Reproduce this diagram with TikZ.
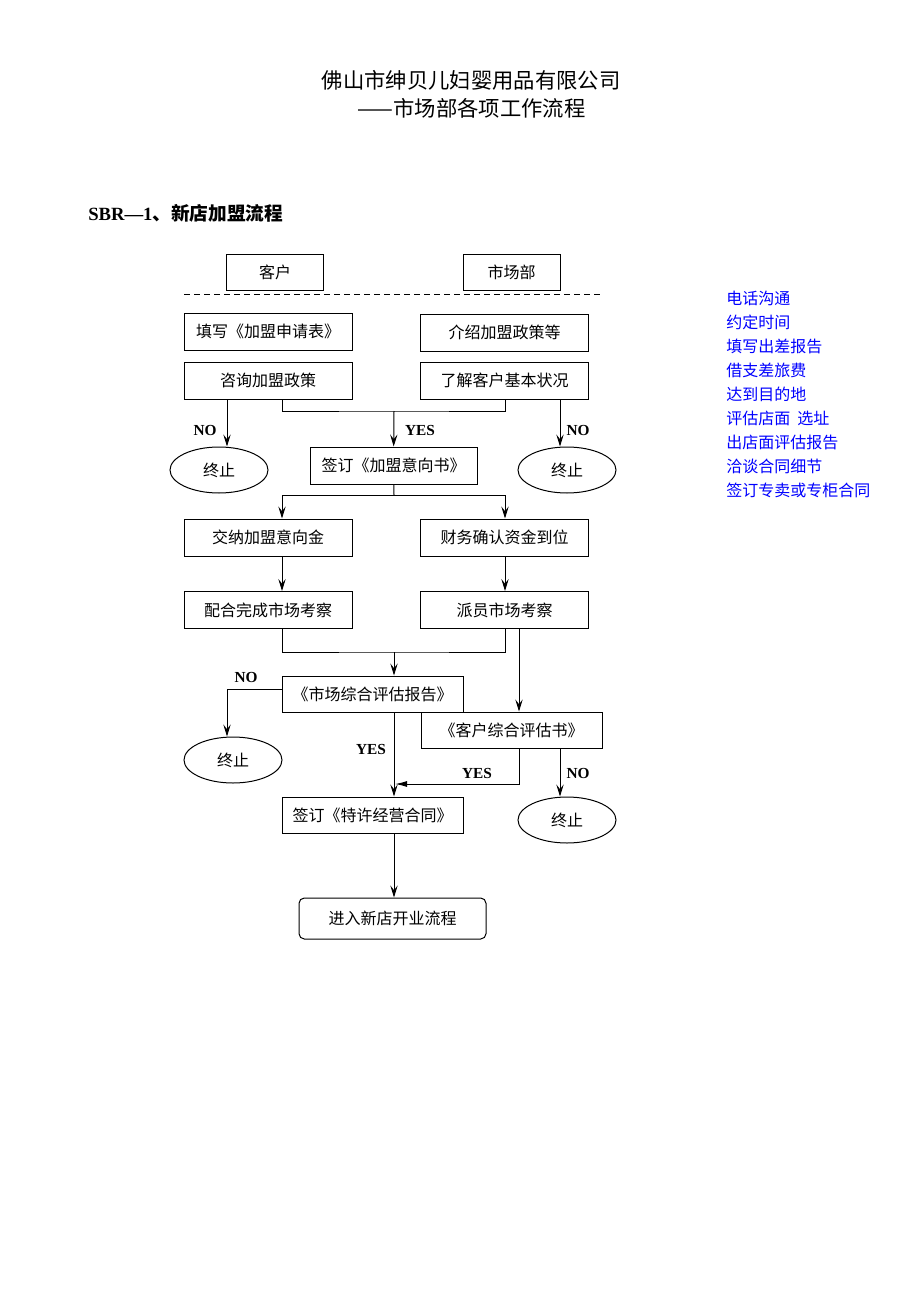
\documentclass[tikz,border=0pt]{standalone}
\usepackage{fontspec}
\setmainfont{Liberation Serif}
\newfontfamily\cjk{Noto Sans CJK SC}
\usetikzlibrary{shapes.geometric,arrows.meta}

\begin{document}
\begin{tikzpicture}[x=0.75pt,y=-0.75pt]
	\tikzset{box/.style = {draw, line width=0.75pt, inner sep=0pt,
	minimum width=126pt, minimum height=27.75pt,
	font=\cjk\fontsize{12}{14}\selectfont}}
	\tikzset{endnode/.style = {draw, ellipse, line width=0.75pt, inner sep=0pt,
	minimum width=73.5pt, minimum height=34.5pt,
	font=\cjk\fontsize{12}{14}\selectfont}}
	\tikzset{lbl/.style = {font=\bfseries\fontsize{11.5}{13}\selectfont}}
	\tikzset{note/.style = {anchor=west, text=blue, inner sep=0pt,
	font=\cjk\fontsize{12}{14}\selectfont}}
	\tikzset{arr/.style = {line width=0.75pt,
	-{Stealth[length=9pt, width=5.5pt, inset=3.5pt]}}}
	\tikzset{link/.style = {line width=0.75pt}}
	
	\useasboundingbox (0,0) rectangle (920,1302);
	
	% titles
	\node[font=\cjk\fontsize{16}{18}\selectfont] (title) at (471,80)
	{佛山市绅贝儿妇婴用品有限公司};
	\node[font=\cjk\fontsize{16}{18}\selectfont] (subtitle) at (471.5,108)
	{——市场部各项工作流程};
	\node[anchor=west, inner sep=0pt, font=\fontsize{14}{16}\selectfont] (sbr)
	at (88,213) {\textbf{SBR—1}{\cjk\bfseries 、新店加盟流程}};
	
	% lanes
	\node[box, minimum width=72.75pt, minimum height=27pt] (client) at (275,272) {客户};
	\node[box, minimum width=72.75pt, minimum height=27pt] (dept) at (511.5,272) {市场部};
	\coordinate (d_left) at (184,294);
	\coordinate (d_right) at (603,294);
	\draw[link, dash pattern=on 4.5pt off 3pt] (d_left) -- (d_right);
	
	% boxes
	\node[box] (fill) at (268,331.5) {填写《加盟申请表》};
	\node[box] (intro) at (504.5,332.5) {介绍加盟政策等};
	\node[box] (ask) at (268,380.5) {咨询加盟政策};
	\node[box] (know) at (504.5,380.5) {了解客户基本状况};
	\node[box, minimum width=125.25pt] (sign_a) at (393.5,465.5) {签订《加盟意向书》};
	\node[endnode] (end_a) at (219,470) {终止};
	\node[endnode] (end_b) at (567,470) {终止};
	\node[box] (pay) at (268,537.5) {交纳加盟意向金};
	\node[box] (fin) at (504.5,537.5) {财务确认资金到位};
	\node[box] (coop) at (268,610) {配合完成市场考察};
	\node[box] (send) at (504.5,610) {派员市场考察};
	\node[box, minimum width=135.75pt, minimum height=27pt] (mkt) at (372.5,694)
	{《市场综合评估报告》};
	\node[box, minimum width=135.75pt, minimum height=27pt] (cust) at (511.5,730)
	{《客户综合评估书》};
	\node[endnode] (end_c) at (233,760) {终止};
	\node[endnode] (end_d) at (567,820) {终止};
	\node[box, minimum width=135.75pt, minimum height=27pt] (contract) at (372.5,815)
	{签订《特许经营合同》};
	\node[box, rounded corners=4pt, minimum width=140.25pt, minimum height=30.75pt]
	(enter) at (392.5,918.5) {进入新店开业流程};
	
	% columns and joins
	\coordinate (c_no) at (227,0);
	\coordinate (c_left) at (282,0);
	\coordinate (c_mid) at (394,0);
	\coordinate (c_right) at (505,0);
	\coordinate (c_down) at (519,0);
	\coordinate (c_rno) at (560,0);
	\coordinate (j_a) at (394,411);
	\coordinate (j_b) at (394,495);
	\coordinate (j_c) at (394,652);
	\coordinate (j_d) at (395,784);
	\coordinate (j_e) at (282,689);
	
	% connectors
	\draw[link] (ask.south -| c_left) |- (j_a) -| (know.south -| c_right);
	\draw[arr] (j_a) -- (sign_a);
	\draw[arr] (ask.south -| c_no) -- (end_a.north -| c_no);
	\draw[arr] (know.south -| c_rno) -- (end_b.north -| c_rno);
	\draw[link] (sign_a) -- (j_b);
	\draw[arr] (j_b) -| (pay.north -| c_left);
	\draw[arr] (j_b) -| (fin.north -| c_right);
	\draw[arr] (pay.south -| c_left) -- (coop.north -| c_left);
	\draw[arr] (fin.south -| c_right) -- (send.north -| c_right);
	\draw[link] (coop.south -| c_left) |- (j_c) -| (send.south -| c_right);
	\draw[arr] (j_c) -- (mkt.north -| c_mid);
	\draw[arr] (send.south -| c_down) -- (cust.north -| c_down);
	\draw[arr] (j_e) -| (end_c.north -| c_no);
	\draw[arr] (mkt.south -| c_mid) -- (contract.north -| c_mid);
	\draw[link, -{Latex[length=9pt, width=4.5pt]}] (cust.south -| c_down) |- (j_d);
	\draw[arr] (cust.south -| c_rno) -- (end_d.north -| c_rno);
	\draw[arr] (contract.south -| c_mid) -- (enter.north -| c_mid);
	
	% labels
	\node[lbl] (no_a) at (205,430) {NO};
	\node[lbl] (yes_a) at (420,430) {YES};
	\node[lbl] (no_b) at (578,430) {NO};
	\node[lbl] (no_c) at (246,677) {NO};
	\node[lbl] (yes_b) at (371,749) {YES};
	\node[lbl] (yes_c) at (477,773) {YES};
	\node[lbl] (no_d) at (578,773) {NO};
	
	% notes
	\foreach \txt [count=\i] in {电话沟通, 约定时间, 填写出差报告, 借支差旅费,
	达到目的地, 评估店面~~选址, 出店面评估报告, 洽谈合同细节, 签订专卖或专柜合同}
	\node[note] (note\i) at (726,{298+24.1*(\i-1)}) {\txt};
\end{tikzpicture}
\end{document}
